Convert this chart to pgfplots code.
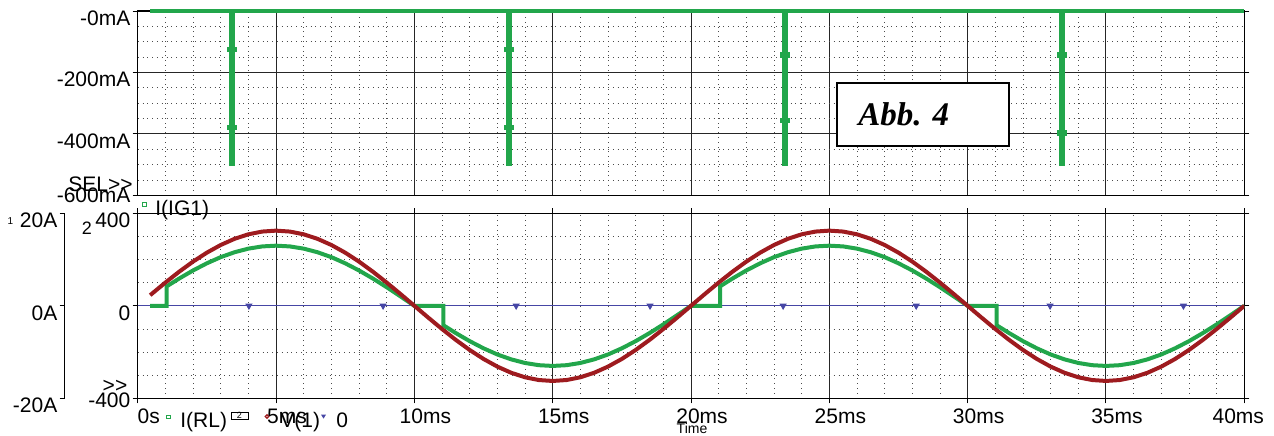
\documentclass[border=0pt]{standalone}
\usepackage{pgfplots}
\pgfplotsset{compat=1.18}
\usepackage{fontspec}
\setmainfont{Liberation Sans}
\newfontfamily\serifbi{Liberation Serif}
\definecolor{grn}{RGB}{34,166,75}
\definecolor{dred}{RGB}{158,27,31}
\definecolor{blu}{RGB}{70,70,165}
\newcommand{\tfont}{\fontsize{10.5}{12}\selectfont}
\pgfplotsset{
  base/.style={
    scale only axis, width=553.3pt, xmin=0, xmax=40, anchor=south west,
    tick label style={font=\tfont},
    axis line style={black, line width=0.6pt},
    major grid style={black!85, line width=0.5pt},
    minor grid style={black!70, line width=0.4pt, dotted},
    tick align=outside, major tick length=2.5pt, minor tick length=0pt,
    tick style={black, line width=0.5pt},
  }
}
\begin{document}
\begin{tikzpicture}
\useasboundingbox (0,0) rectangle (637pt,217.5pt);
% ---------------- top plot ----------------
\begin{axis}[base, at={(68.85pt,119.85pt)}, height=92.15pt,
  ymin=-600, ymax=0,
  xtick={0,5,...,40}, xticklabels={}, minor x tick num=4,
  xtick style={draw=none},
  ytick={-600,-400,-200,0},
  yticklabels={{\raisebox{3.5pt}[\height][\depth]{-600mA}},-400mA,-200mA,-0mA},
  minor y tick num=3, grid=both,
  yticklabel style={anchor=east, yshift=-3.5pt, inner sep=1pt},
  clip=false]
\addplot[grn, line width=1.75pt] coordinates {
(0.45,0)(3.36,0)(3.36,-500)(3.46,-500)(3.46,0)
(13.37,0)(13.37,-500)(13.47,-500)(13.47,0)
(23.35,0)(23.35,-500)(23.45,-500)(23.45,0)
(33.35,0)(33.35,-500)(33.45,-500)(33.45,0)(40,0)};
\addplot[grn, only marks, mark=square*, mark size=2.3pt, mark options={yscale=0.45}] coordinates {
(3.41,-124)(3.41,-378)(13.42,-124)(13.42,-378)
(23.40,-143)(23.40,-355)(33.40,-143)(33.40,-397)};
\end{axis}
\draw[line width=1.2pt, fill=white] (418.5pt,144.5pt) rectangle (504.5pt,176pt);
\node[anchor=base west, inner sep=0pt, font=\serifbi\bfseries\itshape\fontsize{16.5}{19}\selectfont] at (429pt,155pt) {Abb. 4};
\node[anchor=east, inner sep=0pt, font=\tfont] at (66.5pt,125.25pt) {SEL>{}>};
% ---------------- bottom plot: base (grid, V ticks, time axis) ----------------
\begin{axis}[base, at={(68.85pt,18.35pt)}, height=92.5pt,
  ymin=-400, ymax=400,
  ytick={-400,0,400},
  yticklabels={{\raisebox{2.6pt}[\height][\depth]{-400}},0,400},
  minor y tick num=3,
  xtick={0,5,...,40},
  xticklabels={0s,5ms,10ms,15ms,20ms,25ms,30ms,35ms,{\hspace*{-17pt}40ms}},
  minor x tick num=4, grid=both,
  yticklabel style={anchor=east, yshift=-3.5pt, inner sep=1pt},
  xticklabel style={anchor=north, xshift=5.5pt, yshift=-2.5pt, inner sep=0pt}]
\addplot[blu, line width=0.6pt] coordinates {(0,0)(40,0)};
\addplot[blu, only marks, mark=triangle*, mark options={rotate=180}, mark size=1.7pt] coordinates {
(4.02,0)(8.87,0)(13.68,0)(18.52,0)(23.33,0)(28.14,0)(32.98,0)(37.80,0)};
\end{axis}
% ---------------- bottom plot: current axis (A) ----------------
\begin{axis}[scale only axis, anchor=south west, at={(32.35pt,18.35pt)},
  width=589.8pt, height=92.5pt, xmin=-2.6387, xmax=40, ymin=-20, ymax=20,
  axis x line=none, axis y line=left, axis line style={-, black, line width=0.6pt},
  xtick=\empty, ytick={-20,0,20}, yticklabels={-20A,0A,20A},
  tick align=outside, major tick length=2.5pt, tick style={black, line width=0.5pt},
  tick label style={font=\tfont},
  yticklabel style={anchor=east, yshift=-3.5pt, inner sep=1pt}]
\addplot[grn, line width=2pt] coordinates {
(0.45,0)(1.05,0)(1.05,4.21)(1.5,5.90)(2,7.64)(2.5,9.19)(3,10.52)(3.5,11.58)(4,12.36)(4.5,12.84)(5,13)
(5.5,12.84)(6,12.36)(6.5,11.58)(7,10.52)(7.5,9.19)(8,7.64)(8.5,5.90)(9,4.02)(9.5,2.03)(10,0)
(11.05,0)(11.05,-4.21)(11.5,-5.90)(12,-7.64)(12.5,-9.19)(13,-10.52)(13.5,-11.58)(14,-12.36)(14.5,-12.84)(15,-13)
(15.5,-12.84)(16,-12.36)(16.5,-11.58)(17,-10.52)(17.5,-9.19)(18,-7.64)(18.5,-5.90)(19,-4.02)(19.5,-2.03)(20,0)
(21.05,0)(21.05,4.21)(21.5,5.90)(22,7.64)(22.5,9.19)(23,10.52)(23.5,11.58)(24,12.36)(24.5,12.84)(25,13)
(25.5,12.84)(26,12.36)(26.5,11.58)(27,10.52)(27.5,9.19)(28,7.64)(28.5,5.90)(29,4.02)(29.5,2.03)(30,0)
(31.05,0)(31.05,-4.21)(31.5,-5.90)(32,-7.64)(32.5,-9.19)(33,-10.52)(33.5,-11.58)(34,-12.36)(34.5,-12.84)(35,-13)
(35.5,-12.84)(36,-12.36)(36.5,-11.58)(37,-10.52)(37.5,-9.19)(38,-7.64)(38.5,-5.90)(39,-4.02)(39.5,-2.03)(40,0)};
\end{axis}
% ---------------- bottom plot: voltage overlay ----------------
\begin{axis}[scale only axis, anchor=south west, at={(68.85pt,18.35pt)},
  width=553.3pt, height=92.5pt, xmin=0, xmax=40, ymin=-400, ymax=400,
  axis lines=none, xtick=\empty, ytick=\empty]
\addplot[dred, line width=2pt] coordinates {
(0.45,45.8)(0.5,50.84)(1,100.43)(1.5,147.55)(2,191.03)(2.5,229.81)(3,262.93)(3.5,289.58)(4,309.09)(4.5,321.00)(5,325)
(5.5,321.00)(6,309.09)(6.5,289.58)(7,262.93)(7.5,229.81)(8,191.03)(8.5,147.55)(9,100.43)(9.5,50.84)(10,0)
(10.5,-50.84)(11,-100.43)(11.5,-147.55)(12,-191.03)(12.5,-229.81)(13,-262.93)(13.5,-289.58)(14,-309.09)(14.5,-321.00)(15,-325)
(15.5,-321.00)(16,-309.09)(16.5,-289.58)(17,-262.93)(17.5,-229.81)(18,-191.03)(18.5,-147.55)(19,-100.43)(19.5,-50.84)(20,0)
(20.5,50.84)(21,100.43)(21.5,147.55)(22,191.03)(22.5,229.81)(23,262.93)(23.5,289.58)(24,309.09)(24.5,321.00)(25,325)
(25.5,321.00)(26,309.09)(26.5,289.58)(27,262.93)(27.5,229.81)(28,191.03)(28.5,147.55)(29,100.43)(29.5,50.84)(30,0)
(30.5,-50.84)(31,-100.43)(31.5,-147.55)(32,-191.03)(32.5,-229.81)(33,-262.93)(33.5,-289.58)(34,-309.09)(34.5,-321.00)(35,-325)
(35.5,-321.00)(36,-309.09)(36.5,-289.58)(37,-262.93)(37.5,-229.81)(38,-191.03)(38.5,-147.55)(39,-100.43)(39.5,-50.84)(40,0)};
\end{axis}
% ---------------- labels and legend keys ----------------
\draw[grn, line width=0.5pt] (71pt,114.25pt) rectangle (73pt,116.25pt);
\node[anchor=base west, inner sep=0pt, font=\tfont] at (77.5pt,109.7pt) {I(IG1)};
\node[inner sep=0pt, font=\fontsize{5}{6}\selectfont] at (5.25pt,106.75pt) {1};
\node[inner sep=0pt, font=\fontsize{9}{10}\selectfont] at (43.5pt,103.25pt) {2};
\node[inner sep=0pt, font=\tfont] at (57.5pt,24.5pt) {>{}>};
\draw[grn, line width=0.5pt] (83pt,8.5pt) rectangle (85pt,10pt);
\node[anchor=base west, inner sep=0pt, font=\tfont] at (90pt,3.6pt) {I(RL)};
\draw[black, line width=0.5pt] (115.5pt,8pt) rectangle (124pt,11.5pt);
\node[inner sep=0pt, font=\fontsize{4.5}{5}\selectfont] at (119.75pt,9.6pt) {2};
\draw[dred, line width=0.6pt] (133.5pt,9.25pt) circle (0.9pt);
\node[anchor=base west, inner sep=0pt, font=\tfont] at (140pt,3.6pt) {V(1)};
\fill[blu] (160.5pt,10.2pt) -- (163pt,10.2pt) -- (161.75pt,8.2pt) -- cycle;
\node[anchor=base west, inner sep=0pt, font=\tfont] at (168pt,3.6pt) {0};
\node[anchor=base, inner sep=0pt, font=\fontsize{7}{8}\selectfont] at (346pt,1pt) {Time};
\end{tikzpicture}
\end{document}
